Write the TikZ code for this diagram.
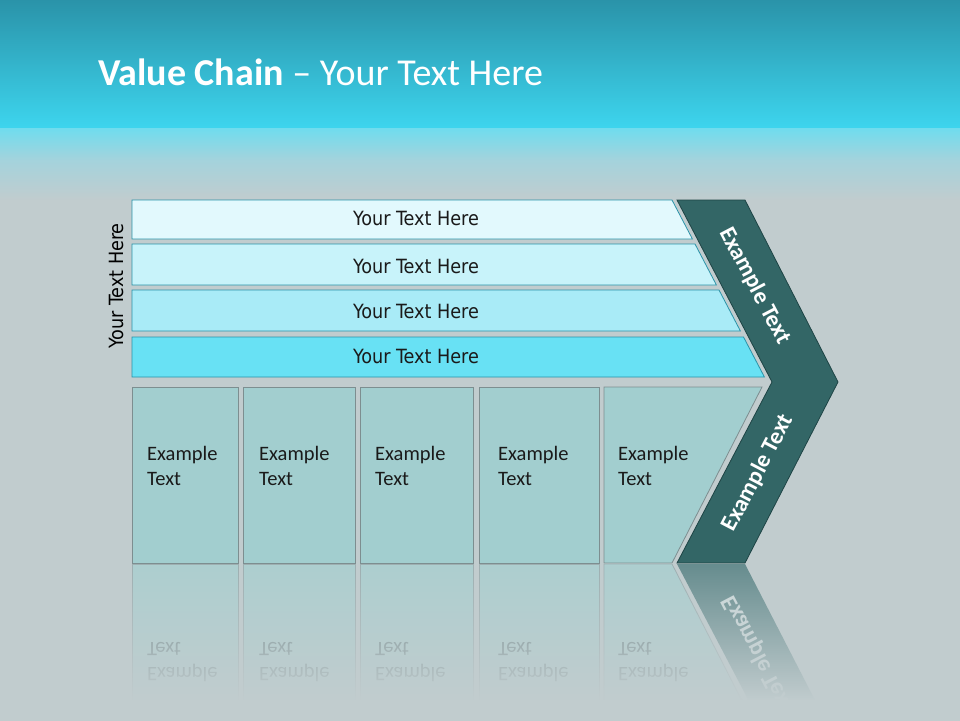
\documentclass[tikz,border=0pt]{standalone}
\usepackage{fontspec}
\setmainfont{Carlito}
\newfontfamily\barfont{DejaVu Sans Condensed}
\usetikzlibrary{fadings}
\definecolor{bgTop}{HTML}{2A93A9}
\definecolor{bgMid}{HTML}{3DD5EE}
\definecolor{bgPale}{HTML}{6FDCEE}
\definecolor{bgSoft}{HTML}{A4D3DC}
\definecolor{bgGrey}{HTML}{C1CCCE}
\definecolor{barA}{HTML}{E2F9FD}
\definecolor{barB}{HTML}{C8F3FA}
\definecolor{barC}{HTML}{A9EBF7}
\definecolor{barD}{HTML}{68E1F4}
\definecolor{barLine}{HTML}{2A93A8}
\definecolor{boxFill}{HTML}{A2CECF}
\definecolor{boxLine}{HTML}{7D8E90}
\definecolor{chev}{HTML}{336666}
\definecolor{chevLine}{HTML}{1E4445}
\definecolor{txt}{HTML}{1A1A1A}
\definecolor{reflFill}{HTML}{ADCFD0}
\definecolor{reflLine}{HTML}{9EAFB1}
\definecolor{reflChev}{HTML}{678D8F}
\definecolor{reflText}{HTML}{6F8789}
\definecolor{reflChevText}{HTML}{CFDBDC}
\tikzfading[name=fadeup, top color=transparent!100, middle color=transparent!72, bottom color=transparent!0]
\tikzset{
  bar/.style={draw=barLine, line width=0.8pt},
  cell/.style={fill=boxFill, draw=boxLine, line width=0.8pt},
  rcell/.style={fill=reflFill, draw=reflLine, line width=0.8pt},
  bartext/.style={font=\barfont\fontsize{19.6}{23}\selectfont, text=txt, inner sep=0pt},
  celltext/.style={font=\fontsize{20.5}{25}\selectfont, align=left, anchor=base west, inner sep=0pt, text=txt},
  chevtext/.style={font=\bfseries\fontsize{23.5}{27}\selectfont, text=white, inner sep=0pt},
}
\begin{document}
\begin{tikzpicture}[x=1pt,y=-1pt]
\useasboundingbox (0,0) rectangle (960,720);
% background
\fill[top color=bgTop, bottom color=bgMid] (0,0) rectangle (960,128);
\fill[top color=bgPale, bottom color=bgSoft] (0,128) rectangle (960,160);
\fill[top color=bgSoft, bottom color=bgGrey] (0,160) rectangle (960,200);
\fill[bgGrey] (0,200) rectangle (960,730);
% title
\node[anchor=base west, inner sep=0pt, text=white, font=\fontsize{38}{42}\selectfont] (title) at (98,85) {\textbf{Value Chain} – Your Text Here};
% bars
\path[bar, fill=barA] (132,200) -- (672,200) -- (692.4,239) -- (132,239) -- cycle;
\path[bar, fill=barB] (132,244) -- (695,244) -- (716.4,285) -- (132,285) -- cycle;
\path[bar, fill=barC] (132,290) -- (719,290) -- (740.4,331) -- (132,331) -- cycle;
\path[bar, fill=barD] (132,337) -- (743.5,337) -- (764.4,377) -- (132,377) -- cycle;
\node[bartext] (t1) at (416,218.5) {Your Text Here};
\node[bartext] (t2) at (416,266) {Your Text Here};
\node[bartext] (t3) at (416,311.5) {Your Text Here};
\node[bartext] (t4) at (416,356.5) {Your Text Here};
\node[bartext, rotate=90, text=black] (side) at (116,286) {Your Text Here};
% cells
\path[cell] (132,387) rectangle (238,563);
\path[cell] (243,387) rectangle (355,563);
\path[cell] (360,387) rectangle (473,563);
\path[cell] (479,387) rectangle (599,563);
\path[cell] (604,387) -- (762,387) -- (672,563) -- (604,563) -- cycle;
\node[celltext] (c1) at (147,485) {Example\\Text};
\node[celltext] (c2) at (259,485) {Example\\Text};
\node[celltext] (c3) at (375,485) {Example\\Text};
\node[celltext] (c4) at (498,485) {Example\\Text};
\node[celltext] (c5) at (618,485) {Example\\Text};
% chevron
\path[fill=chev, draw=chevLine, line width=0.8pt] (677,200) -- (745,200) -- (838,382) -- (745,563) -- (677,563) -- (772,382) -- cycle;
\node[chevtext, rotate=-62.4] (e1) at (755,286) {Example Text};
\node[chevtext, rotate=62.4] (e2) at (758,473) {Example Text};
% reflection
\begin{scope}
\clip (0,564) rectangle (960,706);
\begin{scope}[cm={1,0,0,-1,(0pt,-1127pt)}]
\path[rcell] (132,387) rectangle (238,563);
\path[rcell] (243,387) rectangle (355,563);
\path[rcell] (360,387) rectangle (473,563);
\path[rcell] (479,387) rectangle (599,563);
\path[rcell] (604,387) -- (762,387) -- (672,563) -- (604,563) -- cycle;
\path[fill=reflChev] (772,382) -- (838,382) -- (745,563) -- (677,563) -- cycle;
\node[celltext, text=reflText, transform shape] (r1) at (147,485) {Example\\Text};
\node[celltext, text=reflText, transform shape] (r2) at (259,485) {Example\\Text};
\node[celltext, text=reflText, transform shape] (r3) at (375,485) {Example\\Text};
\node[celltext, text=reflText, transform shape] (r4) at (498,485) {Example\\Text};
\node[celltext, text=reflText, transform shape] (r5) at (618,485) {Example\\Text};
\node[chevtext, text=reflChevText, rotate=62.4, transform shape] (re2) at (758,473) {Example Text};
\end{scope}
\end{scope}
\fill[bgGrey, path fading=fadeup] (0,565) rectangle (960,700);
\fill[bgGrey] (0,700) rectangle (960,730);
\end{tikzpicture}
\end{document}
